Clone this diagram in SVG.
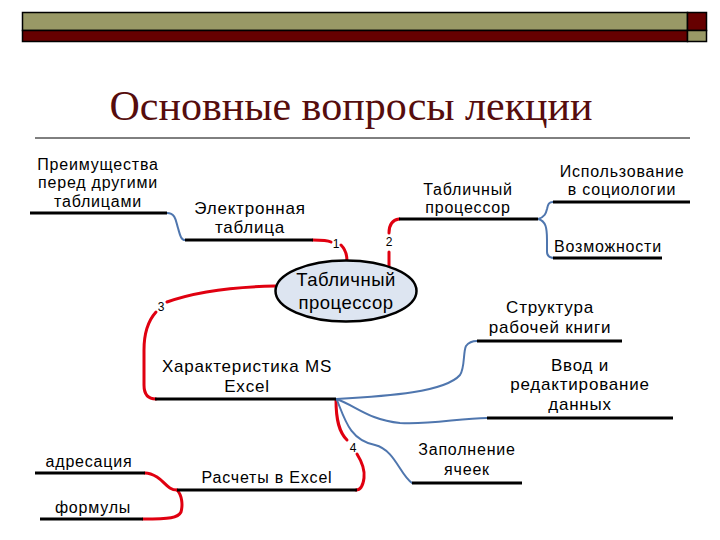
<svg xmlns="http://www.w3.org/2000/svg" width="720" height="540" viewBox="0 0 720 540">
<style>
.t{font-family:"Liberation Sans",Arial,sans-serif;font-size:16px;fill:#000;letter-spacing:0.8px;text-anchor:middle}
.n{font-family:"Liberation Sans",Arial,sans-serif;font-size:12px;fill:#000;text-anchor:middle}
.ul{stroke:#000;stroke-width:3;fill:none}
.r{stroke:#e00010;stroke-width:3;fill:none;stroke-linecap:round}
.b{stroke:#4f76ae;stroke-width:2;fill:none;stroke-linecap:round}
</style>
<rect width="720" height="540" fill="#fff"/>
<g id="header" stroke="#000" stroke-width="1.5">
<rect x="22.5" y="12.5" width="665" height="18" fill="#999966"/>
<rect x="22.5" y="30.5" width="665" height="11" fill="#660000"/>
<rect x="687.5" y="12.5" width="19" height="18" fill="#660000"/>
<rect x="687.5" y="30.5" width="19" height="11" fill="#999966"/>
</g>
<g id="title">
<text x="351" y="120" font-family="'Liberation Serif','Times New Roman',serif" font-size="42" fill="#560d0d" text-anchor="middle">Основные вопросы лекции</text>
<line x1="35" y1="138" x2="690" y2="138" stroke="#000" stroke-width="1"/>
</g>
<g id="connectors">
<path class="r" d="M313,240 C322,240 327,240 331,242"/>
<path class="r" d="M341,245 C345,249 347,254 347,261"/>
<path class="r" d="M389,267 L389,252"/>
<path class="r" d="M389,233 C389,225 392,220 399,219"/>
<path class="r" d="M275,286 C230,287 192,293 167,302"/>
<path class="r" d="M156,312 C147,322 144,335 144,350 L144,385 C144,394 148,399 156,399"/>
<path class="r" d="M336,400 C336,420 339,432 347,440"/>
<path class="r" d="M357,454 C362,462 365,470 364,478 C363,486 360,490 356,490"/>
<path class="r" d="M177,490 C168,490 165,482 157,477 C152,474 150,473 145,473"/>
<path class="r" d="M177,490 C182,495 183,505 181,512 C178,518 170,519 143,519"/>
<path class="b" d="M167,213 C176,213 176,222 178,228 C180,235 181,240 185,240"/>
<path class="b" d="M538,219 C545,217 546,213 547,209 C548,204 549,202 553,202"/>
<path class="b" d="M538,219 C546,221 547,228 547,240 L547,252 C547,256 550,258 555,258"/>
<path class="b" d="M336,399 C390,396 445,392 460,375 C465,368 463,352 466,346 C469,342 473,341 477,341"/>
<path class="b" d="M336,399 C355,405 368,420 400,423 C430,425 460,418 487,418"/>
<path class="b" d="M337,400 C345,420 350,440 375,445 C395,450 400,475 412,483"/>
</g>
<g id="n1-labels">
<text class="n" x="336" y="248">1</text>
<text class="n" x="389" y="246">2</text>
<text class="n" x="161" y="311">3</text>
<text class="n" x="353" y="452">4</text>
</g>
<g id="center">
<ellipse cx="346" cy="291" rx="70.5" ry="30.5" fill="#dde5f1" stroke="#000" stroke-width="2.5"/>
<text class="t" x="346" y="286" style="font-size:18.5px;letter-spacing:0.5px">Табличный</text>
<text class="t" x="346" y="309" style="font-size:18.5px;letter-spacing:0.5px">процессор</text>
</g>
<g id="node-electronic">
<line class="ul" x1="185" y1="240" x2="313" y2="240"/>
<text class="t" x="250" y="214" style="font-size:17px">Электронная</text>
<text class="t" x="250" y="233" style="font-size:17px">таблица</text>
</g>
<g id="node-advantages">
<line class="ul" x1="30" y1="213" x2="167" y2="213"/>
<text class="t" x="98" y="170">Преимущества</text>
<text class="t" x="98" y="188">перед другими</text>
<text class="t" x="98" y="207">таблицами</text>
</g>
<g id="node-processor">
<line class="ul" x1="399" y1="219" x2="538" y2="219"/>
<text class="t" x="468" y="195">Табличный</text>
<text class="t" x="468" y="213">процессор</text>
</g>
<g id="node-sociology">
<line class="ul" x1="553" y1="202" x2="690" y2="202"/>
<text class="t" x="622" y="177">Использование</text>
<text class="t" x="622" y="195">в социологии</text>
</g>
<g id="node-possibilities">
<line class="ul" x1="553" y1="258" x2="662" y2="258"/>
<text class="t" x="608" y="252">Возможности</text>
</g>
<g id="node-excel">
<line class="ul" x1="155" y1="399" x2="336" y2="399"/>
<text class="t" x="247" y="372" style="font-size:17px">Характеристика MS</text>
<text class="t" x="247" y="392" style="font-size:17px">Excel</text>
</g>
<g id="node-structure">
<line class="ul" x1="477" y1="341" x2="622" y2="341"/>
<text class="t" x="550" y="313" style="font-size:17px">Структура</text>
<text class="t" x="550" y="333" style="font-size:17px">рабочей книги</text>
</g>
<g id="node-input">
<line class="ul" x1="487" y1="418" x2="673" y2="418"/>
<text class="t" x="580" y="371" style="font-size:17px">Ввод и</text>
<text class="t" x="580" y="390" style="font-size:17px">редактирование</text>
<text class="t" x="580" y="410" style="font-size:17px">данных</text>
</g>
<g id="node-fill">
<line class="ul" x1="412" y1="483" x2="522" y2="483"/>
<text class="t" x="467" y="455">Заполнение</text>
<text class="t" x="467" y="475">ячеек</text>
</g>
<g id="node-calc">
<line class="ul" x1="177" y1="490" x2="357" y2="490"/>
<text class="t" x="267" y="483">Расчеты в Excel</text>
</g>
<g id="node-addr">
<line class="ul" x1="35" y1="473" x2="145" y2="473"/>
<text class="t" x="89" y="467">адресация</text>
</g>
<g id="node-formulas">
<line class="ul" x1="40" y1="519" x2="143" y2="519"/>
<text class="t" x="93" y="513">формулы</text>
</g>
</svg>
